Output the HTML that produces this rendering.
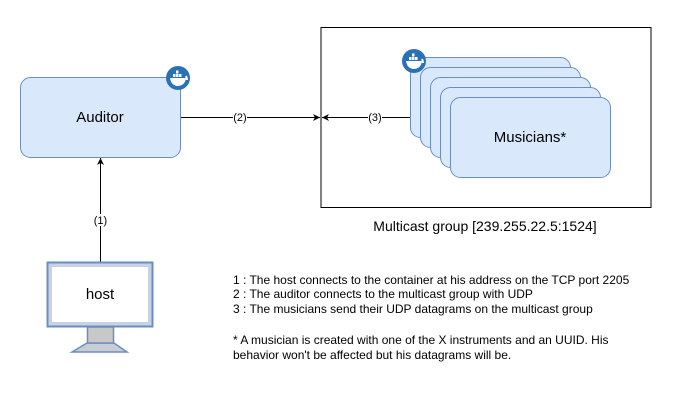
<!DOCTYPE html>
<html><head><meta charset="utf-8"><style>
body{margin:0;background:#fff;}
svg text{font-family:"Liberation Sans",sans-serif;}
</style></head><body>
<svg width="678" height="400" viewBox="0 0 678 400" xmlns="http://www.w3.org/2000/svg">
<defs>
<marker id="ah" markerWidth="8" markerHeight="8" refX="7" refY="4" orient="auto" markerUnits="userSpaceOnUse">
<path d="M0,0.5 L7,4 L0,7.5 L2,4 Z" fill="#000"/>
</marker>
<g id="dock">
<circle r="12" fill="#2a72b5"/>
<path d="M-8,0 L8,0 Q7,8 -1,8 Q-7,7 -8,0 Z" fill="#fff"/>
<rect x="-5" y="-4" width="2.5" height="3" fill="#fff"/><rect x="-2" y="-4" width="2.5" height="3" fill="#fff"/><rect x="1" y="-4" width="2.5" height="3" fill="#fff"/><rect x="-2" y="-7.5" width="2.5" height="3" fill="#fff"/>
<path d="M8,-2 A10,10 0 0 1 9,2" stroke="#fff" stroke-width="2" fill="none"/>
</g>
</defs>
<rect width="678" height="400" fill="#fff"/>
<!-- outer group -->
<rect x="321" y="27.5" width="330" height="180" fill="#fff" stroke="#000" stroke-width="1"/>
<text x="485" y="231" font-size="14" text-anchor="middle" fill="#000">Multicast group [239.255.22.5:1524]</text>
<!-- auditor -->
<rect x="20.5" y="77.5" width="160" height="80" rx="10" fill="#dae8fc" stroke="#6c8ebf"/>
<text x="100" y="122" font-size="15" text-anchor="middle">Auditor</text>
<use href="#dock" x="178" y="78"/>
<!-- musicians -->
<rect x="410.5" y="57.5" width="160" height="80" rx="10" fill="#dae8fc" stroke="#6c8ebf"/>
<rect x="420.5" y="67.5" width="160" height="80" rx="10" fill="#dae8fc" stroke="#6c8ebf"/>
<rect x="430.5" y="77.5" width="160" height="80" rx="10" fill="#dae8fc" stroke="#6c8ebf"/>
<rect x="440.5" y="87.5" width="160" height="80" rx="10" fill="#dae8fc" stroke="#6c8ebf"/>
<rect x="450.5" y="97.5" width="160" height="80" rx="10" fill="#dae8fc" stroke="#6c8ebf"/>
<text x="530" y="142" font-size="15" text-anchor="middle">Musicians*</text>
<use href="#dock" x="414" y="61"/>
<!-- arrows -->
<line x1="181" y1="117.5" x2="320" y2="117.5" stroke="#000" marker-end="url(#ah)"/>
<rect x="233" y="111" width="14" height="12" fill="#fff"/>
<text x="240" y="121" font-size="11" text-anchor="middle">(2)</text>
<line x1="410" y1="117.5" x2="322" y2="117.5" stroke="#000" marker-end="url(#ah)"/>
<rect x="368" y="111" width="14" height="12" fill="#fff"/>
<text x="375" y="121" font-size="11" text-anchor="middle">(3)</text>
<line x1="100.5" y1="262" x2="100.5" y2="158" stroke="#000" marker-end="url(#ah)"/>
<rect x="93" y="214" width="15" height="12" fill="#fff"/>
<text x="100.5" y="224" font-size="11" text-anchor="middle">(1)</text>
<!-- host monitor -->
<path d="M87,343 L114,343 L127,352 L72,352 Z" fill="#c8ccd4" stroke="#6c8ebf" stroke-width="1.5"/>
<rect x="87.5" y="327" width="26" height="16" fill="#c8c8c8" stroke="#6c8ebf" stroke-width="1.5"/>
<rect x="47.5" y="262.5" width="105" height="64" fill="#c8d2e2" stroke="#6c8ebf" stroke-width="2"/>
<rect x="52" y="267" width="96" height="55" fill="#fff"/>
<text x="100" y="299" font-size="15" text-anchor="middle">host</text>
<!-- legend -->
<g font-size="12" fill="#000">
<text x="233" y="284">1 : The host connects to the container at his address on the TCP port 2205</text>
<text x="233" y="298">2 : The auditor connects to the multicast group with UDP</text>
<text x="233" y="313">3 : The musicians send their UDP datagrams on the multicast group</text>
<text x="233" y="344">* A musician is created with one of the X instruments and an UUID. His</text>
<text x="233" y="359">behavior won't be affected but his datagrams will be.</text>
</g>
</svg>
</body></html>
